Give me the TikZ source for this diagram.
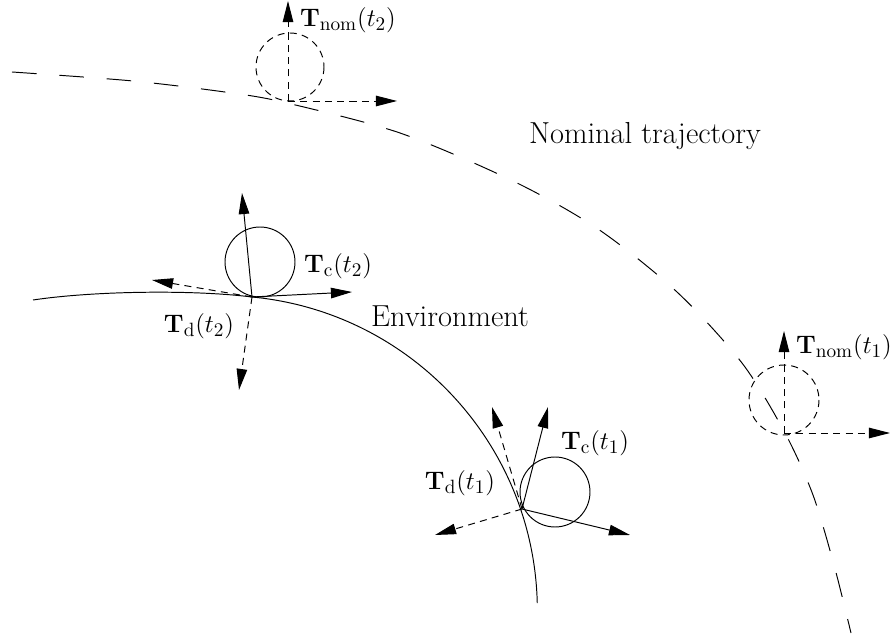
\documentclass[tikz,border=0pt]{standalone}
\usepackage{amsmath}
\usepackage{tikz}
\usetikzlibrary{arrows.meta}

\begin{document}
\begin{tikzpicture}[
  x=0.02cm, y=-0.02cm,
  line width=0.55pt,
  vec/.style={-{Triangle[length=12pt,width=6pt]}},
  dvec/.style={vec, dash pattern=on 4pt off 3pt},
  ghost/.style={dash pattern=on 4pt off 3pt},
  traj/.style={dash pattern=on 14pt off 13pt},
  lbl/.style={font=\fontsize{15}{18}\selectfont, inner sep=0pt},
  txt/.style={font=\fontsize{17.3}{20}\selectfont, inner sep=0pt}
]
  \useasboundingbox (0,0) rectangle (893,641);

  % surfaces
  \draw (33,300) .. controls (93,291) and (192,289.5) .. (252,297)
    arc[start angle=-84.6, end angle=-1.35, radius=315];
  \draw[traj] plot[smooth] coordinates {(12,72) (133,81) (232,93) (287,103)
    (400,133) (513,181) (598,229) (677,292) (742,363) (785,433) (813,495)
    (834,565) (851,633)};

  % contact points and frame tips
  \coordinate (c2) at (252,297);
  \coordinate (c2u) at (242,193);
  \coordinate (c2r) at (352,292);
  \coordinate (d2l) at (152,280);
  \coordinate (d2d) at (239,390);
  \coordinate (c1) at (522,509);
  \coordinate (c1u) at (548,407);
  \coordinate (c1r) at (630,535);
  \coordinate (d1u) at (492,407);
  \coordinate (d1l) at (435,535);
  \coordinate (n2) at (288,101);
  \coordinate (n2u) at (288,1);
  \coordinate (n2r) at (397,101);
  \coordinate (n1) at (784,433);
  \coordinate (n1u) at (784,331);
  \coordinate (n1r) at (890,433);

  % t2
  \draw (260,262) circle[radius=35];
  \draw[vec] (c2) -- (c2u);
  \draw[vec] (c2) -- (c2r);
  \draw[dvec] (c2) -- (d2l);
  \draw[dvec] (c2) -- (d2d);

  % t1
  \draw (555,492) circle[radius=35];
  \draw[vec] (c1) -- (c1u);
  \draw[vec] (c1) -- (c1r);
  \draw[dvec] (c1) -- (d1u);
  \draw[dvec] (c1) -- (d1l);

  % nominal frames
  \draw[ghost] (290,67) circle[radius=34];
  \draw[dvec] (n2) -- (n2u);
  \draw[dvec] (n2) -- (n2r);
  \draw[ghost] (784,400) circle[radius=35];
  \draw[dvec] (n1) -- (n1u);
  \draw[dvec] (n1) -- (n1r);

  % labels
  \node[lbl] (tc2) at (338,266) {$\mathbf{T}_{\mathrm{c}}(t_2)$};
  \node[lbl] (td2) at (199,326) {$\mathbf{T}_{\mathrm{d}}(t_2)$};
  \node[lbl] (tc1) at (595,443) {$\mathbf{T}_{\mathrm{c}}(t_1)$};
  \node[lbl] (td1) at (460,483) {$\mathbf{T}_{\mathrm{d}}(t_1)$};
  \node[lbl] (tn2) at (348,20) {$\mathbf{T}_{\mathrm{nom}}(t_2)$};
  \node[lbl] (tn1) at (844,347) {$\mathbf{T}_{\mathrm{nom}}(t_1)$};
  \node[txt] (env) at (450,316) {Environment};
  \node[txt] (nom) at (645,136) {Nominal trajectory};
\end{tikzpicture}
\end{document}
